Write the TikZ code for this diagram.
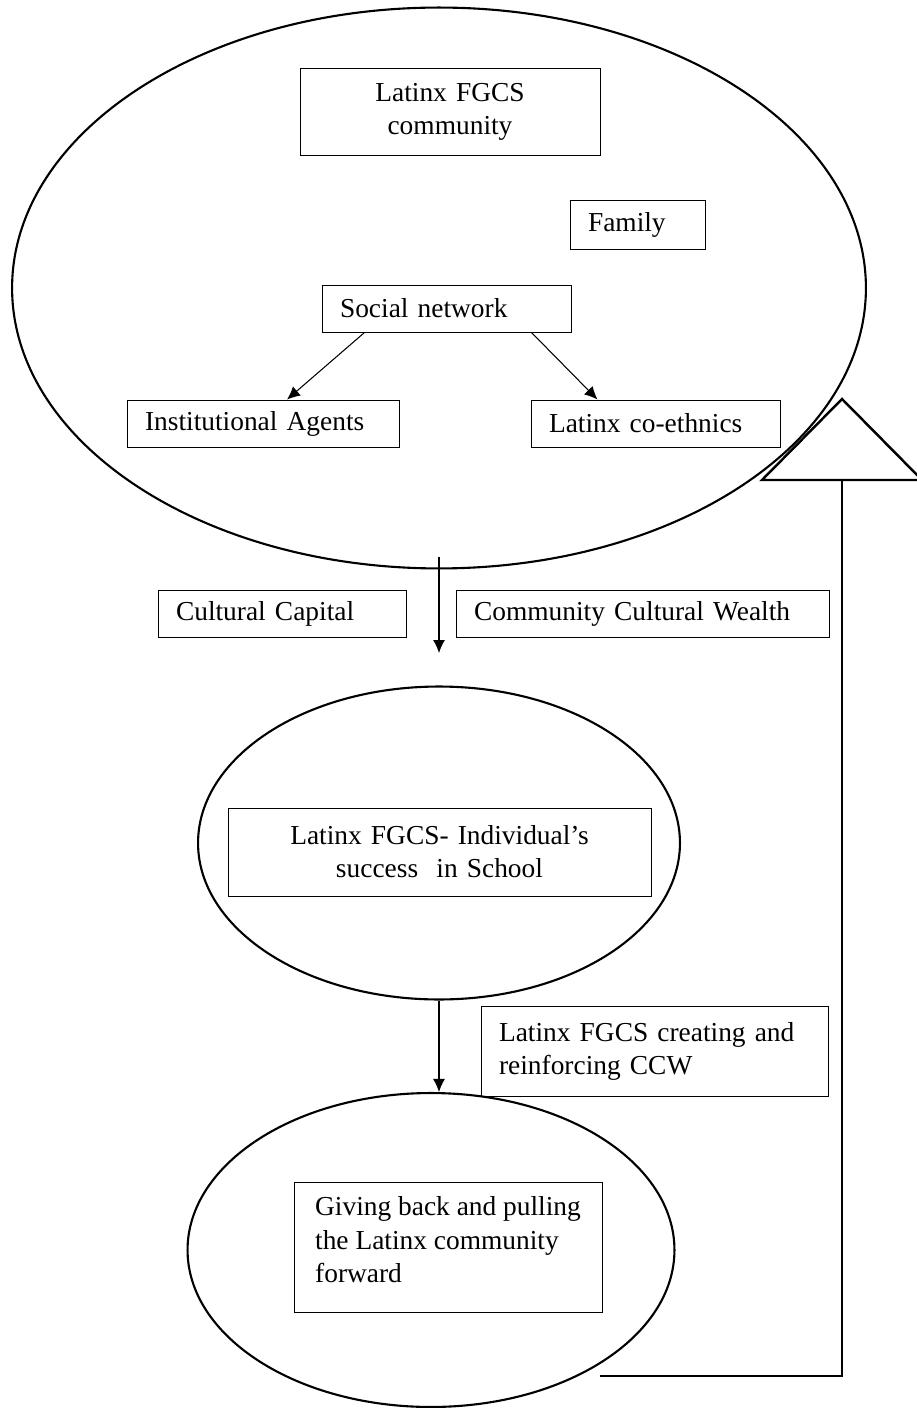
\documentclass[tikz,border=0pt]{standalone}
\usepackage{fontspec}
\setmainfont{Liberation Serif}
\usetikzlibrary{arrows.meta, shapes.geometric}
\tikzset{>={Latex[length=2.6mm,width=2.4mm]}}
\tikzset{
  box/.style={draw, line width=0.5pt, inner xsep=0.36cm, inner ysep=0pt, align=left, font=\fontsize{15.6}{18.8}\selectfont},
  oval/.style={draw, ellipse, line width=1.2pt, inner sep=0pt},
}

\begin{document}
\begin{tikzpicture}[x=0.02cm, y=-0.02cm]
\useasboundingbox (0,0) rectangle (916,1408);
\node[oval, minimum width=17.08cm, minimum height=11.22cm] (Top) at (439,288) {};
\node[oval, minimum width=9.64cm, minimum height=6.26cm] (Mid) at (439,843) {};
\node[oval, minimum width=9.74cm, minimum height=6.28cm] (Bot) at (431,1250) {};
\node[box, align=center, text width=5.28cm, minimum height=1.74cm] (Com) at (450,111.5) {Latinx FGCS\\community};
\node[box, text width=1.98cm, minimum height=0.98cm] (Fam) at (637.5,224.5) {Family};
\node[box, text width=4.26cm, minimum height=0.94cm] (Soc) at (446.5,308.5) {Social network};
\node[box, text width=4.72cm, minimum height=0.94cm] (Inst) at (263,423.5) {Institutional Agents};
\node[box, text width=4.26cm, minimum height=0.94cm] (Eth) at (655.5,423.5) {Latinx co-ethnics};
\node[box, text width=4.24cm, minimum height=0.94cm] (CC) at (282,613.5) {Cultural Capital};
\node[box, text width=6.74cm, minimum height=0.94cm] (CCW) at (642.5,613.5) {Community Cultural Wealth};
\node[box, align=center, text width=7.74cm, minimum height=1.76cm] (Ind) at (439.5,852) {Latinx FGCS- Individual's\\success\ \ in School};
\node[box, text width=6.22cm, minimum height=1.8cm] (Cre) at (654.5,1051) {Latinx FGCS creating and\\reinforcing CCW};
\node[box, inner xsep=0pt, minimum width=6.16cm, minimum height=2.6cm, text depth=0.3cm] (Giv) at (448,1247) {Giving back and pulling\\the Latinx community\\forward};
\draw[->, line width=0.6pt] ([xshift=0.86cm]Soc.south west) -- ([xshift=0.48cm]Inst.north);
\draw[->, line width=0.6pt] ([xshift=-0.8cm]Soc.south east) -- ([xshift=-1.16cm]Eth.north);
\coordinate (T1) at (437,653);
\draw[->, line width=0.6pt] ([yshift=0.26cm]Top.south) -- (Top.south |- T1);
\draw[->, line width=0.6pt] (Mid.south) -- (Mid.south |- Bot.north);
% feedback line back to the community
\coordinate (R0) at (600,1376);
\coordinate (R1) at (842,480);
\draw[line width=1.4pt] (R0) -| (R1);
\draw[line width=1.4pt] (R1) ++(-80,0) -- ++(80,-81) -- ++(80,81) -- cycle;
\end{tikzpicture}
\end{document}
